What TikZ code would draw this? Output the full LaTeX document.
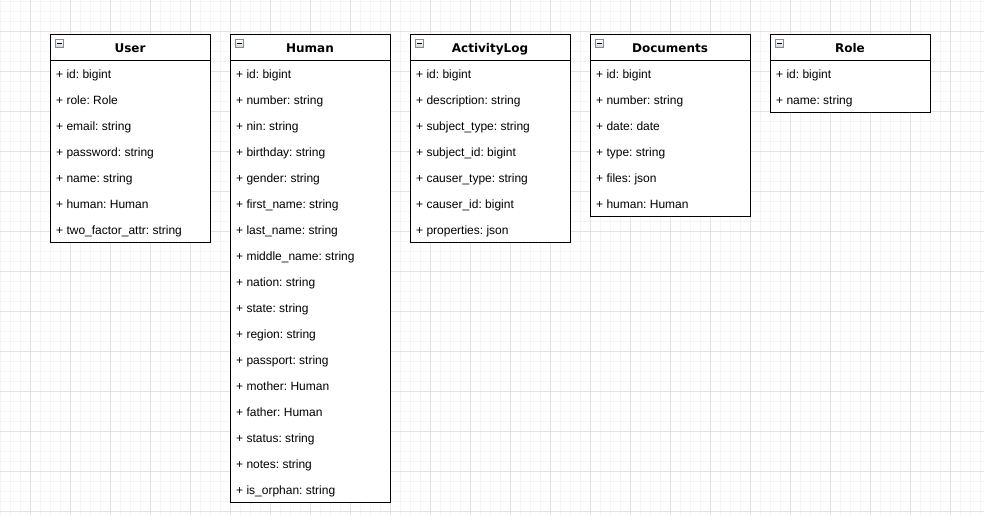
\documentclass[tikz,border=0pt]{standalone}
\usepackage{fontspec}
\setmainfont{Liberation Sans}
\newfontfamily\hdrfont{DejaVu Sans}
\frenchspacing
\definecolor{minorgrid}{RGB}{244,244,244}
\definecolor{majorgrid}{RGB}{226,226,226}
\definecolor{iconedge}{RGB}{130,140,150}
\tikzset{
  minorline/.style={draw=minorgrid,line width=0.8pt},
  majorline/.style={draw=majorgrid,line width=0.8pt},
  classbox/.style={draw=black,line width=1pt,fill=white,minimum width=160pt,inner sep=0pt,outer sep=0pt},
  classtitle/.style={font=\hdrfont\bfseries\fontsize{12pt}{14pt}\selectfont,inner sep=0pt,anchor=base},
  field/.style={font=\fontsize{12pt}{14pt}\selectfont,inner sep=0pt,anchor=base west},
  icon/.style={draw=iconedge,line width=0.6pt,minimum width=8.5pt,minimum height=8pt,inner sep=0pt,
    top color=white,bottom color=gray!35,
    path picture={\draw[black,line width=1pt] ([xshift=2pt]path picture bounding box.west) -- ([xshift=-2pt]path picture bounding box.east);}}
}
\newcommand{\umlclass}[5]{%
  % #1 name, #2 left x, #3 title, #4 number of rows, #5 fields
  \pgfmathsetmacro{\boxh}{26+#4*26}
  \node[classbox,minimum height=\boxh pt] (#1) at (#2+80,34+\boxh/2) {};
  \draw[line width=1pt] ([yshift=-26pt]#1.north west) -- ([yshift=-26pt]#1.north east);
  \node[classtitle] (#1-t) at (#2+80,52) {#3};
  \node[icon] (#1-i) at (#2+9.5,43.75) {};
  \foreach \f [count=\i] in {#5} {
    \node[field] (#1-\i) at (#2+6,60+26*\i-8) {\f};
  }
}
\begin{document}
\begin{tikzpicture}[x=1pt,y=-1pt]
\useasboundingbox (0,0) rectangle (984,515);
\fill[white] (0,0) rectangle (984,515);
% grid
\foreach \x in {0,10,...,980} \draw[minorline] (\x,0) -- (\x,515);
\foreach \y in {1,11,...,511} \draw[minorline] (0,\y) -- (984,\y);
\foreach \x in {30,70,...,950} \draw[majorline] (\x,0) -- (\x,515);
\foreach \y in {31,71,...,511} \draw[majorline] (0,\y) -- (984,\y);
% classes
\umlclass{user}{50}{User}{7}{+ id: bigint,+ role: Role,+ email: string,+ password: string,+ name: string,+ human: Human,+ two\_factor\_attr: string}
\umlclass{human}{230}{Human}{17}{+ id: bigint,+ number: string,+ nin: string,+ birthday: string,+ gender: string,+ first\_name: string,+ last\_name: string,+ middle\_name: string,+ nation: string,+ state: string,+ region: string,+ passport: string,+ mother: Human,+ father: Human,+ status: string,+ notes: string,+ is\_orphan: string}
\umlclass{activity}{410}{ActivityLog}{7}{+ id: bigint,+ description: string,+ subject\_type: string,+ subject\_id: bigint,+ causer\_type: string,+ causer\_id: bigint,+ properties: json}
\umlclass{documents}{590}{Documents}{6}{+ id: bigint,+ number: string,+ date: date,+ type: string,+ files: json,+ human: Human}
\umlclass{role}{770}{Role}{2}{+ id: bigint,+ name: string}
\end{tikzpicture}
\end{document}
